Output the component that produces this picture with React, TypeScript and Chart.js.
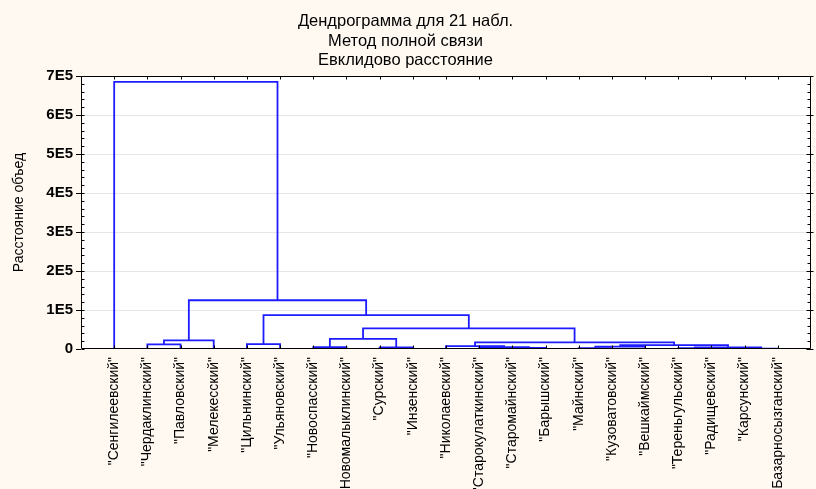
import { useEffect, useRef } from 'react';
import { Chart, registerables } from 'chart.js';

Chart.register(...registerables);

const titleLines = ['Дендрограмма для 21 набл.', 'Метод полной связи', 'Евклидово расстояние'];
const yAxisTitle = 'Расстояние объед';

const leafLabels = [
  '"Сенгилеевский"',
  '"Чердаклинский"',
  '"Павловский"',
  '"Мелекесский"',
  '"Цильнинский"',
  '"Ульяновский"',
  '"Новоспасский"',
  '"Новомалыклинский"',
  '"Сурский"',
  '"Инзенский"',
  '"Николаевский"',
  '"Старокулаткинский"',
  '"Старомайнский"',
  '"Барышский"',
  '"Майнский"',
  '"Кузоватовский"',
  '"Вешкаймский"',
  '"Тереньгульский"',
  '"Радищевский"',
  '"Карсунский"',
  '"Базарносызганский"',
];

// Leaves are nodes 0..20; merge k creates node 21 + k
const mergeLeft = [1, 21, 4, 6, 8, 24, 12, 11, 10, 14, 30, 17, 19, 32, 31, 29, 26, 23, 22, 0];
const mergeRight = [2, 3, 5, 7, 9, 25, 13, 27, 28, 15, 16, 18, 20, 33, 34, 35, 36, 37, 38, 39];
const mergeHeight = [
  12000, 22000, 12500, 5000, 4000, 26000, 3000, 5000, 7500, 2000,
  6000, 2500, 1200, 4000, 10000, 17000, 53000, 87000, 125000, 685000,
];

const yTickValues = [0, 100000, 200000, 300000, 400000, 500000, 600000, 700000];
const yTickLabels = ['0', '1E5', '2E5', '3E5', '4E5', '5E5', '6E5', '7E5'];
const yMinorStep = 20000;

const FONT = "Arial, 'Liberation Sans', sans-serif";
const LINE_COLOR = '#1c1cff';

function buildDatasets() {
  const nodeX: number[] = leafLabels.map((_, i) => i + 1);
  const nodeH: number[] = leafLabels.map(() => 0);
  mergeLeft.forEach((l, k) => {
    const r = mergeRight[k];
    nodeX.push((nodeX[l] + nodeX[r]) / 2);
    nodeH.push(mergeHeight[k]);
  });
  return mergeLeft.map((l, k) => {
    const r = mergeRight[k];
    const h = mergeHeight[k];
    return {
      label: 'm' + k,
      data: [
        { x: nodeX[l], y: nodeH[l] },
        { x: nodeX[l], y: h },
        { x: nodeX[r], y: h },
        { x: nodeX[r], y: nodeH[r] },
      ],
      showLine: true,
      borderColor: LINE_COLOR,
      borderWidth: 1.8,
      pointRadius: 0,
      pointHoverRadius: 0,
      fill: false,
      tension: 0,
    };
  });
}

const backgroundPlugin = {
  id: 'bgPlugin',
  beforeDraw(chart: any) {
    const { ctx, width, height, chartArea } = chart;
    ctx.save();
    ctx.fillStyle = '#fff9f1';
    ctx.fillRect(0, 0, width, height);
    ctx.fillStyle = '#ffffff';
    ctx.fillRect(chartArea.left, chartArea.top, chartArea.right - chartArea.left, chartArea.bottom - chartArea.top);
    ctx.restore();
  },
};

const framePlugin = {
  id: 'framePlugin',
  afterDraw(chart: any) {
    const { ctx, chartArea, scales } = chart;
    const { left, right, top, bottom } = chartArea;
    const x = scales.x;
    const y = scales.y;
    ctx.save();
    ctx.strokeStyle = '#000';
    ctx.lineWidth = 1;
    const L = Math.round(left) + 0.5;
    const R = Math.round(right) - 0.5;
    const T = Math.round(top) + 0.5;
    const B = Math.round(bottom) - 0.5;
    ctx.beginPath();
    ctx.rect(L, T, R - L, B - T);
    ctx.stroke();
    ctx.beginPath();
    leafLabels.forEach((_, i) => {
      const px = Math.round(x.getPixelForValue(i + 1)) + 0.5;
      ctx.moveTo(px, T);
      ctx.lineTo(px, T + 3);
      ctx.moveTo(px, B);
      ctx.lineTo(px, B - 3);
    });
    const yMax = yTickValues[yTickValues.length - 1];
    for (let v = 0; v <= yMax; v += yMinorStep) {
      const py = Math.round(y.getPixelForValue(v)) + 0.5;
      const major = yTickValues.includes(v);
      ctx.moveTo(L, py);
      ctx.lineTo(L + 3, py);
      if (major) {
        ctx.moveTo(R - 4, py);
        ctx.lineTo(R + 3, py);
      } else {
        ctx.moveTo(R - 3, py);
        ctx.lineTo(R, py);
      }
    }
    ctx.stroke();
    ctx.restore();
  },
};

export default function App() {
  const canvasRef = useRef<HTMLCanvasElement | null>(null);

  useEffect(() => {
    if (!canvasRef.current) return;
    const chart = new Chart(canvasRef.current, {
      type: 'scatter',
      data: { datasets: buildDatasets() as any },
      plugins: [backgroundPlugin, framePlugin],
      options: {
        animation: false,
        responsive: false,
        events: [],
        layout: { padding: { top: 0, left: 0, right: 5, bottom: 0 } },
        plugins: {
          legend: { display: false },
          tooltip: { enabled: false },
          title: {
            display: true,
            text: titleLines,
            color: '#000',
            font: { family: FONT, size: 16.5, weight: 'normal', lineHeight: 1.18 },
            padding: { top: 12, bottom: 5.6 },
          },
        },
        scales: {
          x: {
            type: 'linear',
            min: 0,
            max: leafLabels.length + 1,
            grid: { display: false, drawTicks: false },
            border: { display: false },
            ticks: {
              stepSize: 1,
              autoSkip: false,
              maxRotation: 90,
              minRotation: 90,
              padding: 8,
              color: '#000',
              font: { family: FONT, size: 14 },
              callback: (value: any) => {
                const i = Math.round(Number(value)) - 1;
                return i >= 0 && i < leafLabels.length && Number(value) === i + 1 ? leafLabels[i] : '';
              },
            },
            afterFit: (scale: any) => {
              scale.height = 140;
              scale.paddingLeft = 0;
              scale.paddingRight = 0;
            },
          },
          y: {
            type: 'linear',
            min: yTickValues[0],
            max: yTickValues[yTickValues.length - 1],
            afterBuildTicks: (scale: any) => {
              scale.ticks = yTickValues.map((v) => ({ value: v }));
            },
            grid: {
              color: (c: any) =>
                c.tick && (c.tick.value === yTickValues[0] || c.tick.value === yTickValues[yTickValues.length - 1])
                  ? 'rgba(0,0,0,0)'
                  : '#e6e6e6',
              tickColor: '#000',
              tickLength: 5,
              drawTicks: true,
            },
            border: { display: false },
            ticks: {
              padding: 3,
              color: '#000',
              font: { family: FONT, size: 15, weight: 'bold' },
              callback: (value: any) => {
                const idx = yTickValues.indexOf(Number(value));
                return idx >= 0 ? yTickLabels[idx] : '';
              },
            },
            title: {
              display: true,
              text: yAxisTitle,
              color: '#000',
              font: { family: FONT, size: 14 },
              padding: { top: 11, bottom: 0 },
            },
            afterFit: (scale: any) => {
              scale.width = 81;
              scale.paddingTop = 0;
              scale.paddingBottom = 0;
            },
          },
        },
      },
    });
    return () => chart.destroy();
  }, []);

  return (
    <div style={{ position: 'absolute', left: 0, top: 0, width: 816, height: 489 }}>
      <canvas ref={canvasRef} width={816} height={489} style={{ display: 'block', width: 816, height: 489 }} />
    </div>
  );
}
